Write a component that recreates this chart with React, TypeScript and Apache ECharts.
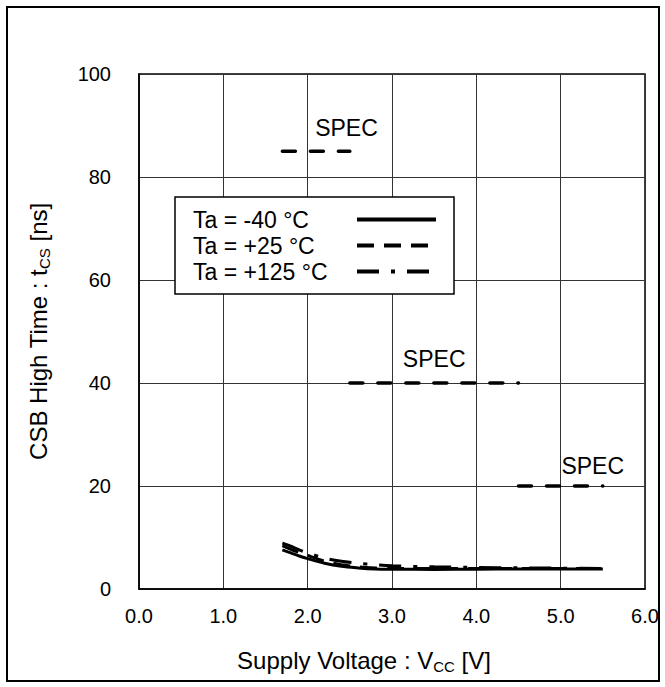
import React, { useEffect, useRef } from "react";
import * as echarts from "echarts";

const voltages = [1.7, 1.8, 1.9, 2.0, 2.2, 2.4, 2.6, 2.8, 3.0, 3.5, 4.0, 4.5, 5.0, 5.5];
const tMinus40 = [7.6, 7.0, 6.4, 5.9, 5.0, 4.4, 4.1, 3.9, 3.85, 3.8, 3.85, 3.9, 3.9, 3.9];
const t25 = [8.4, 7.7, 7.1, 6.5, 5.4, 4.7, 4.3, 4.1, 4.0, 4.0, 4.0, 4.0, 4.0, 4.0];
const t125 = [8.9, 8.3, 7.6, 7.0, 6.0, 5.4, 5.0, 4.7, 4.5, 4.3, 4.2, 4.1, 4.05, 4.0];

const seriesNames = ["Ta = -40 °C", "Ta = +25 °C", "Ta = +125 °C"];

const specLevels = [85, 40, 20];
const specStart = [1.7, 2.5, 4.5];
const specEnd = [2.5, 4.5, 5.5];
const specLabelX = [2.46, 3.5, 5.38];
const specLabelY = [89.6, 44.6, 23.9];

const xTicks = [0, 1, 2, 3, 4, 5, 6];

const FONT = "'Liberation Sans', Arial, sans-serif";

export default function App() {
  const ref = useRef<HTMLDivElement>(null);
  useEffect(() => {
    if (!ref.current) return;
    const chart = echarts.init(ref.current, null, { renderer: "svg" });
    const pair = (ys: number[]) => voltages.map((v, i) => [v, ys[i]]);
    const specSeries = specLevels.map((lvl, i) => ({
      type: "line",
      name: "spec" + i,
      data: [
        [specStart[i], lvl],
        [specEnd[i], lvl],
      ],
      symbol: "none",
      lineStyle: { color: "#000", width: 3.5, type: [13, 15], cap: "round" },
      z: 3,
    }));
    const nameStyle = {
      color: "#000",
      fontSize: 24,
      fontFamily: FONT,
      lineHeight: 28,
      rich: {
        sub: { fontSize: 15, lineHeight: 14, verticalAlign: "bottom", fontFamily: FONT, color: "#000" },
      },
    };
    chart.setOption({
      animation: false,
      textStyle: { fontFamily: FONT },
      graphic: [
        {
          type: "rect",
          shape: { x: 7, y: 7, width: 652, height: 674 },
          style: { fill: "none", stroke: "#000", lineWidth: 2 },
          silent: true,
        },
      ],
      grid: {
        left: 139,
        top: 74,
        width: 506,
        height: 515,
        show: true,
        borderColor: "#000",
        borderWidth: 1.5,
        backgroundColor: "transparent",
      },
      legend: {
        data: seriesNames,
        orient: "vertical",
        left: 175,
        top: 197,
        align: "right",
        backgroundColor: "#fff",
        borderColor: "#000",
        borderWidth: 1.5,
        padding: [11, 16, 11, 18],
        itemWidth: 79,
        itemHeight: 14,
        itemGap: 3,
        selectedMode: false,
        lineStyle: { width: 4 },
        itemStyle: { opacity: 0 },
        formatter: (n: string) => "{a|" + n + "}",
        textStyle: {
          color: "#000",
          fontFamily: FONT,
          fontSize: 23,
          rich: {
            a: {
              fontSize: 23,
              fontFamily: FONT,
              color: "#000",
              width: 159,
              align: "left",
              lineHeight: 25,
            },
          },
        },
      },
      xAxis: {
        type: "value",
        min: 0,
        max: 6,
        interval: 1,
        name: "Supply Voltage : V{sub|CC} [V]",
        nameLocation: "middle",
        nameGap: 57,
        nameTextStyle: { ...nameStyle, padding: [0, 56, 0, 0] },
        axisLine: { show: true, onZero: false, lineStyle: { color: "#000", width: 1.5 } },
        axisTick: { show: false },
        axisLabel: {
          color: "#000",
          fontSize: 20,
          fontFamily: FONT,
          margin: 17,
          formatter: (v: number) => (xTicks.includes(v) ? v.toFixed(1) : ""),
        },
        splitLine: { show: true, lineStyle: { color: "#333", width: 1 } },
      },
      yAxis: {
        type: "value",
        min: 0,
        max: 100,
        interval: 20,
        name: "CSB High Time : t{sub|CS} [ns]",
        nameLocation: "middle",
        nameRotate: 90,
        nameGap: 87,
        nameTextStyle: nameStyle,
        axisLine: { show: true, onZero: false, lineStyle: { color: "#000", width: 1.5 } },
        axisTick: { show: false },
        axisLabel: { color: "#000", fontSize: 20, fontFamily: FONT, margin: 28 },
        splitLine: { show: true, lineStyle: { color: "#333", width: 1 } },
      },
      series: [
        ...specSeries,
        {
          type: "scatter",
          name: "specLabel",
          data: specLabelX.map((x, i) => [x, specLabelY[i]]),
          symbol: "circle",
          symbolSize: 0,
          itemStyle: { color: "#000", opacity: 0 },
          label: {
            show: true,
            position: "inside",
            formatter: "SPEC",
            color: "#000",
            opacity: 1,
            textBorderWidth: 0,
            fontSize: 23,
            fontFamily: FONT,
          },
          z: 4,
        },
        {
          type: "line",
          name: seriesNames[0],
          data: pair(tMinus40),
          smooth: 0.3,
          symbol: "none",
          color: "#000",
          lineStyle: { color: "#000", width: 3, type: "solid" },
          z: 5,
        },
        {
          type: "line",
          name: seriesNames[1],
          data: pair(t25),
          smooth: 0.3,
          symbol: "none",
          color: "#000",
          lineStyle: { color: "#000", width: 3, type: [17, 10] },
          z: 5,
        },
        {
          type: "line",
          name: seriesNames[2],
          data: pair(t125),
          smooth: 0.3,
          symbol: "none",
          color: "#000",
          lineStyle: { color: "#000", width: 3, type: [22, 12, 4, 12] },
          z: 5,
        },
      ],
    });
    return () => chart.dispose();
  }, []);
  return (
    <div
      ref={ref}
      style={{ position: "fixed", left: 0, top: 0, width: 665, height: 687, background: "#fff" }}
    />
  );
}
